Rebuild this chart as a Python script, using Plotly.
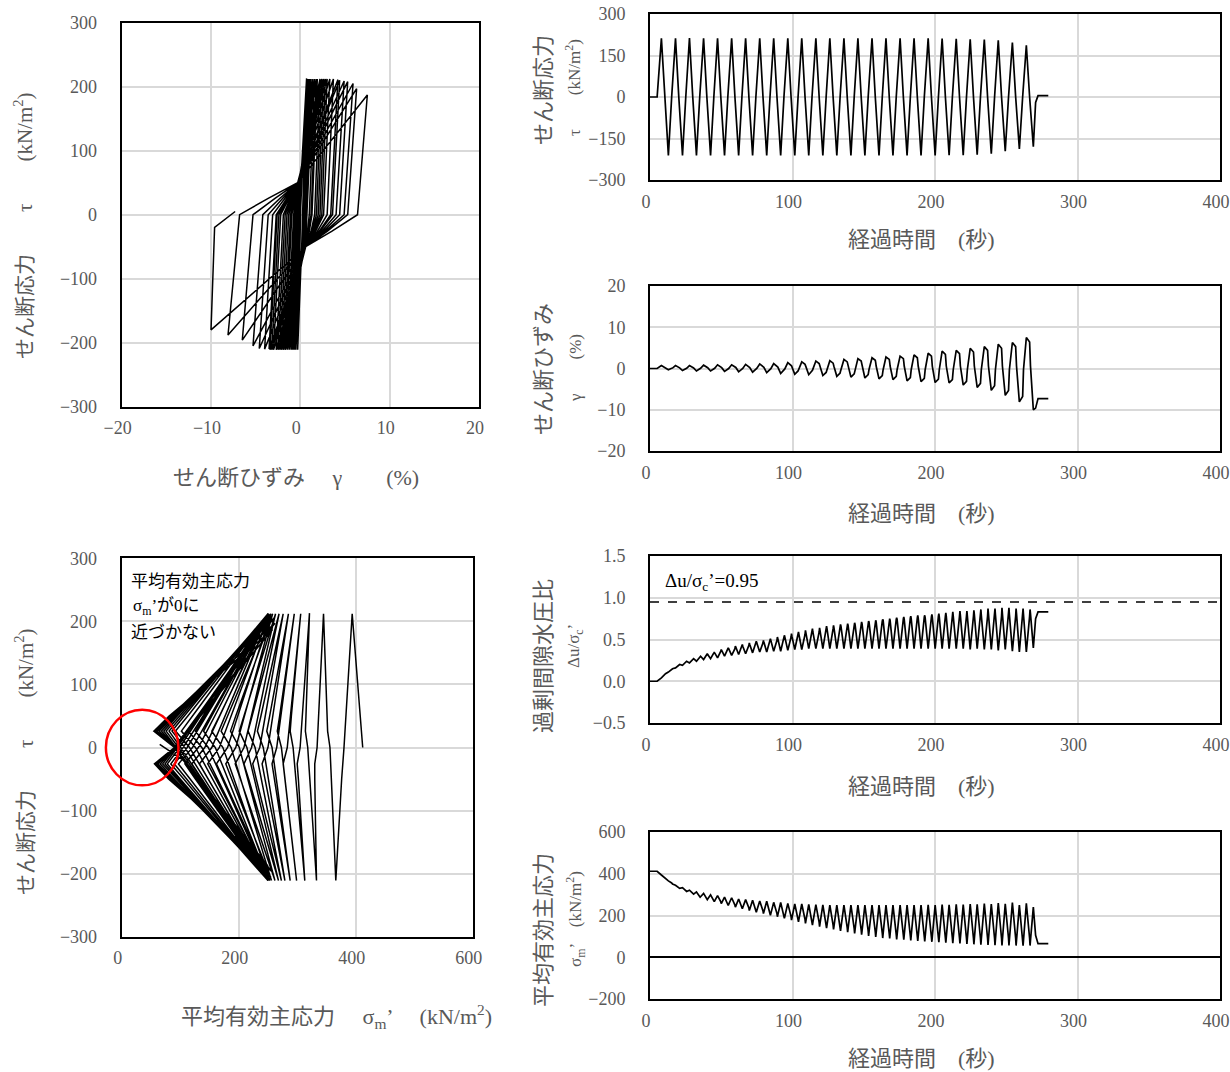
import plotly.graph_objects as go

# ---------------- data ----------------
# key times of every loading cycle (s): peak, zero crossing, tip, shoulder, trough, ...
t_pos = [8.0, 17.9, 27.7, 37.6, 47.4, 57.3, 67.1, 77.0, 86.8, 96.7, 106.5, 116.4, 126.2, 136.1,
         145.9, 155.8, 165.6, 175.5, 185.3, 195.2, 205.0, 214.9, 224.7, 234.6, 244.4, 254.3, 264.1]
t_zd = [10.3, 20.2, 30.0, 39.9, 49.7, 59.6, 69.4, 79.3, 89.1, 99.0, 108.8, 118.7, 128.5, 138.4,
        148.2, 158.1, 167.9, 177.8, 187.6, 197.5, 207.3, 217.2, 227.0, 236.9, 246.7, 256.6, 266.4]
t_td = [10.6, 20.5, 30.3, 40.2, 50.0, 59.9, 69.7, 79.6, 89.4, 99.3, 109.1, 119.0, 128.8, 138.7,
        148.5, 158.4, 168.2, 178.1, 187.9, 197.8, 207.6, 217.5, 227.3, 237.2, 247.0, 256.9, 266.7]
t_sd = [10.9, 20.8, 30.6, 40.5, 50.3, 60.2, 70.0, 79.9, 89.7, 99.6, 109.4, 119.3, 129.1, 139.0,
        148.8, 158.7, 168.5, 178.4, 188.2, 198.1, 207.9, 217.8, 227.6, 237.5, 247.3, 257.2, 267.0]
t_neg = [12.9, 22.8, 32.6, 42.5, 52.3, 62.2, 72.0, 81.9, 91.7, 101.6, 111.4, 121.3, 131.1, 141.0,
         150.8, 160.7, 170.5, 180.4, 190.2, 200.1, 209.9, 219.8, 229.6, 239.5, 249.3, 259.2, 269.0]
t_zu = [15.2, 25.1, 34.9, 44.8, 54.6, 64.5, 74.3, 84.2, 94.0, 103.9, 113.7, 123.6, 133.4, 143.3,
        153.1, 163.0, 172.8, 182.7, 192.5, 202.4, 212.2, 222.1, 231.9, 241.8, 251.6, 261.5]
t_tu = [15.5, 25.4, 35.2, 45.1, 54.9, 64.8, 74.6, 84.5, 94.3, 104.2, 114.0, 123.9, 133.7, 143.6,
        153.4, 163.3, 173.1, 183.0, 192.8, 202.7, 212.5, 222.4, 232.2, 242.1, 251.9, 261.8]
t_su = [15.8, 25.7, 35.5, 45.4, 55.2, 65.1, 74.9, 84.8, 94.6, 104.5, 114.3, 124.2, 134.0, 143.9,
        153.7, 163.6, 173.4, 183.3, 193.1, 203.0, 212.8, 222.7, 232.5, 242.4, 252.2, 262.1]
t_start = [0.0, 5.0]
t_end = [270.6, 272.3, 279.5]

# shear stress tau (kN/m2)
tau_pos = [212, 212, 213, 212, 212, 212, 212, 212, 212, 212, 212, 212, 212, 212,
           212, 212, 212, 212, 212, 212, 211, 210, 209, 208, 205, 197, 187]
tau_zd = [0] * 27
tau_td = [-26] * 27
tau_sd = [-50] * 27
tau_neg = [-211, -211, -211, -211, -211, -211, -211, -211, -211, -211, -211, -211, -211, -211,
           -211, -211, -211, -211, -211, -211, -210, -210, -209, -205, -196, -188, -180]
tau_zu = [0] * 26
tau_tu = [26] * 26
tau_su = [50] * 26
tau_start = [0, 0]
tau_end = [-20, 5, 5]

# shear strain gamma (%)
gam_pos = [0.7, 0.7, 0.7, 0.8, 0.9, 0.9, 1.0, 1.1, 1.2, 1.4, 1.6, 1.8, 1.9, 2.2,
           2.4, 2.6, 2.8, 3.0, 3.3, 3.7, 4.2, 4.4, 4.9, 5.3, 5.9, 6.3, 7.5]
gam_zd = [0.25, 0.25, 0.25, 0.3, 0.35, 0.4, 0.45, 0.55, 0.65, 0.8, 1.0, 1.2, 1.3, 1.6,
          1.8, 2.0, 2.2, 2.4, 2.6, 3.0, 3.4, 3.6, 4.0, 4.4, 4.9, 5.3, 6.4]
gam_td = [0.2, 0.2, 0.2, 0.25, 0.3, 0.35, 0.4, 0.45, 0.55, 0.65, 0.8, 0.9, 1.0, 1.2,
          1.3, 1.4, 1.5, 1.6, 1.7, 1.9, 2.1, 2.2, 2.4, 2.6, 2.8, 3.0, 3.5]
gam_sd = [0.15, 0.15, 0.15, 0.2, 0.2, 0.25, 0.25, 0.3, 0.35, 0.4, 0.45, 0.5, 0.5, 0.55,
          0.6, 0.6, 0.6, 0.6, 0.6, 0.6, 0.6, 0.6, 0.6, 0.6, 0.6, 0.6, 0.6]
gam_neg = [-0.3, -0.5, -0.6, -0.6, -0.7, -0.8, -0.9, -1.0, -1.2, -1.4, -1.5, -1.7, -1.9, -2.1,
           -2.3, -2.5, -2.7, -3.0, -3.2, -3.4, -3.5, -4.0, -4.6, -5.3, -6.5, -8.1, -10.0]
gam_zu = [0.05, 0.0, -0.05, -0.05, -0.1, -0.15, -0.2, -0.3, -0.45, -0.6, -0.75, -0.95, -1.1,
          -1.3, -1.5, -1.7, -1.9, -2.2, -2.4, -2.6, -2.7, -3.1, -3.6, -4.2, -5.3, -6.8]
gam_tu = [0.07, 0.02, 0.0, 0.0, -0.05, -0.08, -0.1, -0.17, -0.27, -0.35, -0.45, -0.57, -0.65,
          -0.77, -0.87, -1.0, -1.1, -1.25, -1.35, -1.45, -1.5, -1.7, -1.95, -2.25, -2.8, -3.55]
gam_su = [0.1, 0.05, 0.05, 0.05, 0.0, 0.0, 0.0, -0.05, -0.1, -0.1, -0.15, -0.2, -0.2,
          -0.25, -0.25, -0.3, -0.3, -0.3, -0.3, -0.3, -0.3, -0.3, -0.3, -0.3, -0.3, -0.3]
gam_start = [0.0, 0.0]
gam_end = [-9.6, -7.3, -7.3]

# mean effective principal stress sigma_m' (kN/m2)
sm_pos = [394, 345, 321, 306, 295, 285, 276, 269, 263, 258, 255, 252, 250, 250,
          250, 250, 250, 250, 250, 251, 252, 253, 255, 257, 260, 262, 258]
sm_zd = [380, 334, 305, 283, 265, 250, 236, 222, 209, 195, 181, 167, 154, 142,
         131, 121, 112, 105, 99, 95, 92, 91, 90, 90, 90, 90, 90]
sm_td = [378, 330, 300, 276, 257, 240, 224, 209, 194, 178, 162, 147, 133, 120,
         108, 97, 90, 84, 78, 74, 70, 66, 62, 59, 57, 56, 56]
sm_sd = [376, 330, 302, 279, 261, 245, 230, 217, 203, 188, 174, 161, 148, 137,
         126, 117, 111, 106, 100, 97, 94, 90, 87, 84, 83, 81, 80]
sm_neg = [366, 333, 313, 299, 288, 279, 273, 268, 262, 256, 253, 251, 250, 250,
          250, 250, 250, 250, 250, 250, 251, 252, 253, 255, 256, 250, 240]
sm_zu = [356, 318, 293, 273, 257, 242, 228, 214, 201, 187, 173, 160, 148, 137,
         126, 116, 108, 101, 97, 93, 91, 90, 90, 90, 90, 90]
sm_tu = [352, 314, 288, 266, 248, 232, 216, 201, 186, 170, 154, 140, 126, 114,
         102, 92, 86, 81, 76, 72, 68, 64, 60, 58, 56, 55]
sm_su = [351, 315, 290, 270, 253, 238, 223, 209, 195, 181, 167, 154, 142, 132,
         121, 113, 107, 103, 99, 95, 92, 89, 86, 84, 83, 81]
sm_start = [412, 412]
sm_end = [105, 65, 65]

# excess pore water pressure ratio du/sigma_c'
du_pos = [0.04, 0.16, 0.22, 0.26, 0.28, 0.31, 0.33, 0.35, 0.36, 0.37, 0.38, 0.39, 0.39, 0.39,
          0.39, 0.39, 0.39, 0.39, 0.39, 0.39, 0.39, 0.39, 0.38, 0.38, 0.37, 0.36, 0.35]
du_zd = [0.08, 0.19, 0.26, 0.31, 0.36, 0.39, 0.43, 0.46, 0.49, 0.53, 0.56, 0.59, 0.63, 0.66,
         0.68, 0.71, 0.73, 0.75, 0.76, 0.77, 0.78, 0.78, 0.78, 0.78, 0.78, 0.78, 0.78]
du_td = [0.08, 0.20, 0.27, 0.33, 0.38, 0.42, 0.46, 0.49, 0.53, 0.57, 0.61, 0.64, 0.67, 0.69,
         0.71, 0.73, 0.75, 0.77, 0.79, 0.80, 0.82, 0.84, 0.85, 0.87, 0.88, 0.87, 0.86]
du_sd = [0.09, 0.20, 0.27, 0.32, 0.37, 0.41, 0.44, 0.47, 0.51, 0.54, 0.58, 0.61, 0.64, 0.67,
         0.69, 0.71, 0.73, 0.74, 0.76, 0.77, 0.78, 0.79, 0.80, 0.81, 0.81, 0.81, 0.81]
du_neg = [0.11, 0.19, 0.24, 0.27, 0.30, 0.32, 0.34, 0.35, 0.36, 0.38, 0.39, 0.39, 0.39, 0.39,
          0.39, 0.39, 0.39, 0.39, 0.39, 0.39, 0.39, 0.39, 0.39, 0.38, 0.38, 0.35, 0.40]
du_zu = [0.14, 0.23, 0.29, 0.34, 0.38, 0.41, 0.45, 0.48, 0.51, 0.55, 0.58, 0.61, 0.64, 0.67,
         0.69, 0.72, 0.74, 0.76, 0.77, 0.78, 0.78, 0.78, 0.78, 0.78, 0.78, 0.78]
du_tu = [0.15, 0.24, 0.30, 0.35, 0.40, 0.44, 0.48, 0.51, 0.55, 0.59, 0.63, 0.66, 0.68, 0.70,
         0.72, 0.74, 0.76, 0.78, 0.79, 0.81, 0.83, 0.84, 0.86, 0.87, 0.88, 0.87]
du_su = [0.15, 0.24, 0.30, 0.34, 0.39, 0.42, 0.46, 0.49, 0.53, 0.56, 0.59, 0.63, 0.66, 0.68,
         0.71, 0.73, 0.74, 0.75, 0.76, 0.77, 0.78, 0.78, 0.79, 0.80, 0.80, 0.80]
du_start = [0.0, 0.0]
du_end = [0.75, 0.83, 0.83]

du_limit = 0.95          # dashed reference level
du_limit_t = [0, 400]

# ---------------- assemble the cyclic records ----------------
def build(start, pos, zd, td, sd, neg, zu, tu, su, end):
    seq = list(start)
    for i in range(len(pos)):
        seq += [pos[i], zd[i], td[i], sd[i], neg[i]]
        if i < len(zu):
            seq += [zu[i], tu[i], su[i]]
    return seq + list(end)

t = build(t_start, t_pos, t_zd, t_td, t_sd, t_neg, t_zu, t_tu, t_su, t_end)
tau = build(tau_start, tau_pos, tau_zd, tau_td, tau_sd, tau_neg, tau_zu, tau_tu, tau_su, tau_end)
gam = build(gam_start, gam_pos, gam_zd, gam_td, gam_sd, gam_neg, gam_zu, gam_tu, gam_su, gam_end)
sm = build(sm_start, sm_pos, sm_zd, sm_td, sm_sd, sm_neg, sm_zu, sm_tu, sm_su, sm_end)
du = build(du_start, du_pos, du_zd, du_td, du_sd, du_neg, du_zu, du_tu, du_su, du_end)

# ---------------- figure ----------------
W, H = 1230, 1072
def px(x):
    return x / W
def py(y):
    return 1 - y / H

GRAY = '#595959'
TICKFONT = dict(family='Liberation Serif', size=18, color=GRAY)
TITLEFAM = 'Liberation Serif, Noto Sans CJK JP'
LINE = dict(color='black', width=1.5)
TLINE = dict(color='black', width=1.7)

fig = go.Figure()
fig.add_trace(go.Scatter(x=gam, y=tau, mode='lines', line=LINE, xaxis='x', yaxis='y'))
fig.add_trace(go.Scatter(x=t, y=tau, mode='lines', line=TLINE, xaxis='x2', yaxis='y2'))
fig.add_trace(go.Scatter(x=sm, y=tau, mode='lines', line=LINE, xaxis='x3', yaxis='y3'))
fig.add_trace(go.Scatter(x=t, y=gam, mode='lines', line=TLINE, xaxis='x4', yaxis='y4'))
fig.add_trace(go.Scatter(x=t, y=du, mode='lines', line=TLINE, xaxis='x5', yaxis='y5'))
fig.add_trace(go.Scatter(x=du_limit_t, y=[du_limit, du_limit], mode='lines',
                         line=dict(color='black', width=1.5, dash='dash'), xaxis='x5', yaxis='y5'))
fig.add_trace(go.Scatter(x=t, y=sm, mode='lines', line=TLINE, xaxis='x6', yaxis='y6'))

def ax(domain, rng, dtick, anchor, is_x, **kw):
    d = dict(domain=domain, range=rng, dtick=dtick, tick0=rng[0], anchor=anchor,
             showline=True, linecolor='black', linewidth=2, mirror=True,
             showgrid=True, gridcolor='#d9d9d9', gridwidth=1.5, zeroline=False,
             ticks='', tickfont=TICKFONT, fixedrange=True, automargin=False,
             ticklabeloverflow='allow')
    if is_x:
        d.update(ticklabelstandoff=4, ticklabelshift=-4)
    else:
        d.update(ticklabelstandoff=19)
    d.update(kw)
    return d

LX = [px(121.7), px(479)]
LX3 = [px(121.7), px(472.7)]
RX = [px(650), px(1220)]
Y1 = [py(406.7), py(22.7)]
Y3 = [py(936.7), py(558.3)]
Y2 = [py(180), py(14)]
Y4 = [py(451), py(286)]
Y5 = [py(723), py(556)]
Y6 = [py(999), py(832)]

fig.update_layout(
    width=W, height=H, margin=dict(l=0, r=0, t=0, b=0, autoexpand=False),
    paper_bgcolor='white', plot_bgcolor='white', showlegend=False,
    xaxis=ax(LX, [-20, 20], 10, 'y', True),
    yaxis=ax(Y1, [-300, 300], 100, 'x', False),
    xaxis2=ax(RX, [0, 400], 100, 'y2', True),
    yaxis2=ax(Y2, [-300, 300], 150, 'x2', False),
    xaxis3=ax(LX3, [0, 600], 200, 'y3', True),
    yaxis3=ax(Y3, [-300, 300], 100, 'x3', False),
    xaxis4=ax(RX, [0, 400], 100, 'y4', True),
    yaxis4=ax(Y4, [-20, 20], 10, 'x4', False),
    xaxis5=ax(RX, [0, 400], 100, 'y5', True),
    yaxis5=ax(Y5, [-0.5, 1.5], 0.5, 'x5', False, tickformat='.1f'),
    xaxis6=ax(RX, [0, 400], 100, 'y6', True),
    yaxis6=ax(Y6, [-200, 600], 200, 'x6', False, zeroline=True, zerolinecolor='black',
              zerolinewidth=1.5),
)

ann = []
def txt(text, x, y, size, color=GRAY, angle=0, xanchor='center', yanchor='middle'):
    ann.append(dict(text=text, x=px(x), y=py(y), xref='paper', yref='paper', showarrow=False,
                    textangle=angle, xanchor=xanchor, yanchor=yanchor,
                    font=dict(family=TITLEFAM, size=size, color=color)))

# left column titles
txt('せん断応力　　τ　　(kN/m<sup>2</sup>)', 24, 226, 21, angle=-90)
txt('せん断ひずみ　 γ　　(%)', 296, 478, 22)
txt('せん断応力　　τ　　(kN/m<sup>2</sup>)', 24, 762, 21, angle=-90)
txt('平均有効主応力　 σ<sub>m</sub>’　 (kN/m<sup>2</sup>)', 336, 1016, 22)
# right column titles
for yy in (240, 513, 786, 1058):
    txt('経過時間　(秒)', 921, yy, 22)
txt('せん断応力', 543, 90, 22, angle=-90)
txt('τ　　(kN/m<sup>2</sup>)', 573, 88, 17, angle=-90)
txt('せん断ひずみ', 543, 369, 22, angle=-90)
txt('γ　　(%)', 575, 368, 17, angle=-90)
txt('過剰間隙水圧比', 543, 656, 22, angle=-90)
txt('Δu/σ<sub>c</sub>’', 575, 646, 17, angle=-90)
txt('平均有効主応力', 543, 930, 22, angle=-90)
txt('σ<sub>m</sub>’　(kN/m<sup>2</sup>)', 575, 919, 17, angle=-90)
# in-plot notes
txt('平均有効主応力', 129, 581, 17, color='black', xanchor='left')
txt('σ<sub>m</sub>’が0に', 131, 607, 17, color='black', xanchor='left')
txt('近づかない', 129, 632, 17, color='black', xanchor='left')
txt('Δu/σ<sub>c</sub>’=0.95', 663, 582, 19, color='black', xanchor='left')
fig.update_layout(annotations=ann)

# red circle around the stress-path tips (data coords -> paper)
circ_sm, circ_tau, circ_rsm, circ_rtau = 35, 0, 62, 60
def xp3(v):
    return LX3[0] + (v - 0) / 600 * (LX3[1] - LX3[0])
def yp3(v):
    return Y3[0] + (v + 300) / 600 * (Y3[1] - Y3[0])
fig.add_shape(type='circle', xref='paper', yref='paper',
              x0=xp3(circ_sm - circ_rsm), x1=xp3(circ_sm + circ_rsm),
              y0=yp3(circ_tau - circ_rtau), y1=yp3(circ_tau + circ_rtau),
              line=dict(color='red', width=2.5))

# remove the default page margin so the 1230x1072 figure fills the window exactly
fig.write_html("out.html", config={'displayModeBar': False},
               post_script="document.body.style.margin='0';document.body.style.overflow='hidden';")
